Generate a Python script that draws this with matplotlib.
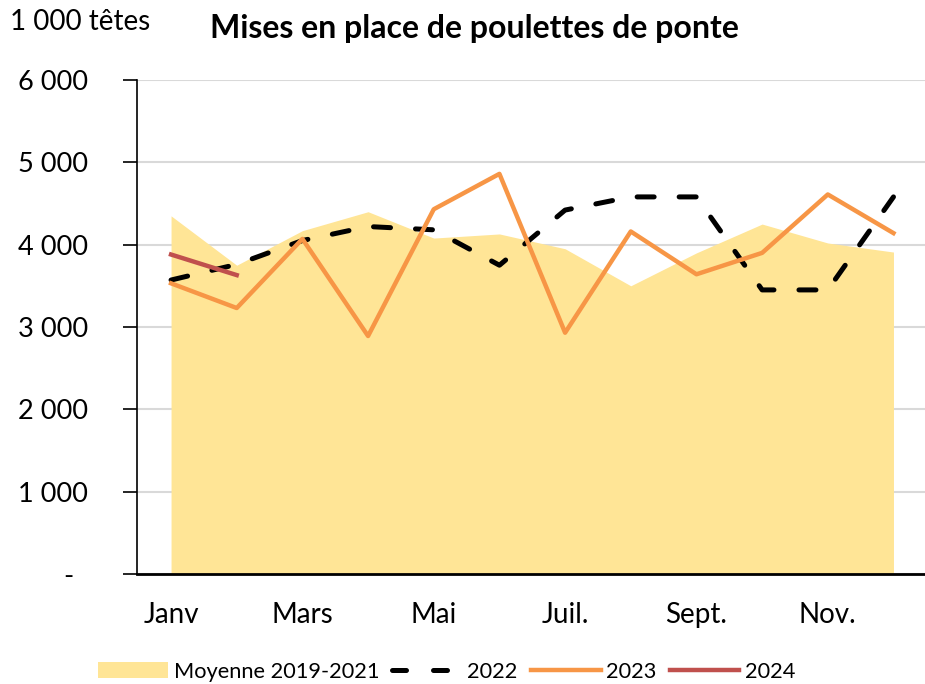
from matplotlib import pyplot as plt
from matplotlib import ticker
from matplotlib.patches import Patch
from matplotlib.lines import Line2D

months = ["Janv", "Févr", "Mars", "Avr", "Mai", "Juin",
          "Juil.", "Août", "Sept.", "Oct.", "Nov.", "Déc."]
moyenne = [4350, 3750, 4170, 4400, 4080, 4130, 3950, 3500, 3900, 4250, 4020, 3910]
y2022 = [3570, 3760, 4050, 4220, 4180, 3750, 4420, 4580, 4580, 3450, 3450, 4580]
y2023 = [3530, 3230, 4070, 2890, 4430, 4860, 2930, 4160, 3640, 3900, 4610, 4140]
y2024 = [3880, 3630]

yticks = [0, 1000, 2000, 3000, 4000, 5000, 6000]
ytick_labels = ["-  ", "1 000", "2 000", "3 000", "4 000", "5 000", "6 000"]

plt.rcParams['font.family'] = ['Lato', 'DejaVu Sans']

fig = plt.figure(figsize=(9.25, 6.84), dpi=100)
ax = fig.add_axes([0.148, 0.161, 0.852, 0.722])

x = list(range(len(months)))
ax.fill_between(x, moyenne, 0, color="#FFE596", linewidth=0, zorder=1)
ax.plot(x, y2022, color="black", linewidth=3.6, dashes=(3.4, 5),
        dash_capstyle="round", zorder=3)
ax.plot(x, y2023, color="#F79646", linewidth=3.2, zorder=4)
ax.plot(x[:len(y2024)], y2024, color="#C0504D", linewidth=3.2, zorder=5)

ax.set_xlim(-0.52, 11.48)
ax.set_ylim(0, 6000)
ax.set_xticks(x[::2])
ax.set_xticklabels(months[::2])
ax.set_yticks(yticks)
ax.set_yticklabels(ytick_labels)
ax.yaxis.grid(True, color="#D9D9D9", linewidth=1.5, zorder=0)
ax.set_axisbelow(True)

for s in ["top", "right"]:
    ax.spines[s].set_visible(False)
ax.spines["left"].set_linewidth(1.2)
ax.spines["bottom"].set_linewidth(2)
ax.tick_params(axis="y", length=10, width=1.2, pad=25, labelsize=19.5)
ax.tick_params(axis="x", length=0, pad=20, labelsize=20)

fig.text(0.011, 0.968, "1 000 têtes", fontsize=20, va="center", ha="left")
fig.text(0.513, 0.958, "Mises en place de poulettes de ponte", fontsize=23,
         fontweight="bold", va="center", ha="center")

handles = [
    Patch(facecolor="#FFE596", edgecolor="none"),
    Line2D([], [], color="black", linewidth=3.6, dashes=(2.8, 5.4),
           dash_capstyle="round"),
    Line2D([], [], color="#F79646", linewidth=3.2),
    Line2D([], [], color="#C0504D", linewidth=3.2),
]
labels = ["Moyenne 2019-2021", "2022", "2023", "2024"]
fig.legend(handles, labels, loc="center", bbox_to_anchor=(0.483, 0.018), ncol=4,
           frameon=False, fontsize=15.7, handlelength=3.2, handletextpad=0.25,
           columnspacing=0.6, borderpad=0)

fig.savefig("out.png", dpi=100)
